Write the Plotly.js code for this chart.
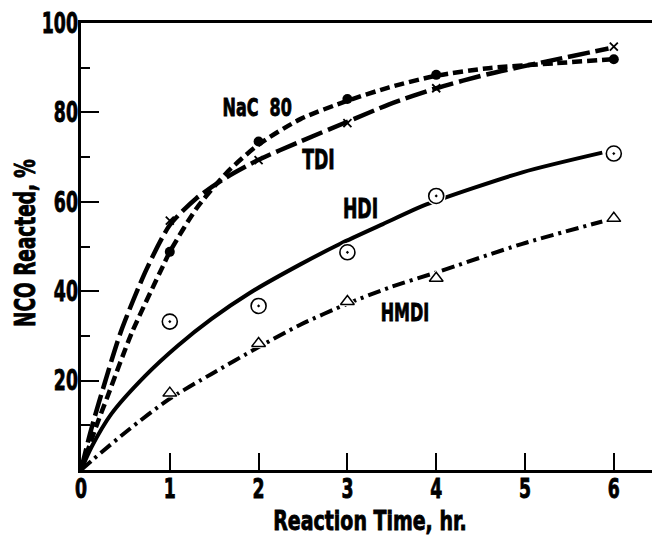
<!DOCTYPE html>
<html>
<head>
<meta charset="utf-8">
<script src="https://cdn.plot.ly/plotly-3.0.1.min.js"></script>
<style>
html,body{margin:0;padding:0;background:#fff;}
#chart{width:652px;height:537px;}
#chart text{stroke:#000;stroke-width:0.9px;}
</style>
</head>
<body>
<div id="chart"></div>
<script>
// Measured points (reaction time, hr  ->  NCO reacted, %)
const pointTimes = [1, 2, 3, 4, 6];
const nacPoints  = [48.8, 73.5, 83.0, 88.4, 91.9];
const tdiPoints  = [55.8, 69.3, 77.6, 85.4, 94.7];
const hdiPoints  = [33.2, 36.7, 48.7, 61.3, 70.8];
const hmdiPoints = [17.2, 28.3, 37.7, 42.9, 56.3];

// Drawn curves
const nacCurveX  = [0, 0.17, 0.30, 0.57, 0.92, 1.0, 1.3, 1.64, 2.0, 2.47, 3.0, 3.47, 4.0, 4.59, 5.34, 6.0];
const nacCurveY  = [0, 9.7, 16.5, 30.6, 45.5, 48.8, 58.5, 66.5, 72.8, 78.5, 82.6, 85.6, 88.2, 89.9, 91.0, 91.9];
const tdiCurveX  = [0, 0.10, 0.20, 0.45, 0.74, 1.0, 1.3, 1.64, 2.0, 2.47, 3.0, 3.47, 4.0, 4.59, 5.34, 5.94];
const tdiCurveY  = [0, 8.0, 15.0, 31.0, 45.0, 54.8, 60.8, 65.5, 69.4, 73.5, 77.9, 81.8, 85.4, 88.6, 91.8, 94.3];
const hdiCurveX  = [0, 0.12, 0.34, 0.72, 1.09, 1.47, 1.90, 2.47, 2.92, 3.40, 3.89, 4.97, 5.87];
const hdiCurveY  = [0, 5.2, 12.5, 21.0, 27.8, 33.8, 39.6, 46.0, 50.6, 55.0, 59.4, 66.6, 71.0];
const hmdiCurveX = [0, 0.15, 0.53, 0.98, 1.47, 2.0, 2.47, 3.0, 3.47, 4.0, 4.97, 5.87];
const hmdiCurveY = [0, 2.6, 8.9, 15.7, 21.5, 27.5, 32.5, 37.2, 40.8, 44.2, 50.6, 55.6];

const xTickVals = [0, 1, 2, 3, 4, 5, 6];
const yTickVals = [20, 40, 60, 80, 100];
const yMinorVals = [10, 30, 50, 70, 90];

const seriesLabels = ['NaC  80', 'TDI', 'HDI', 'HMDI'];
const labelX = [1.98, 2.68, 3.15, 3.65];
const labelY = [81.2, 69.4, 58.4, 35.3];
const labelSizes = [25, 27, 27, 25];

const FONT = 'DejaVu Sans, sans-serif';

function curve(x, y, dash, w) {
  return {x: x, y: y, mode: 'lines', type: 'scatter', showlegend: false, hoverinfo: 'skip',
          line: {color: '#000', width: w, dash: dash, shape: 'spline', smoothing: 0.7}};
}
function pts(y, symbol, size, lw, color, lcolor) {
  return {x: pointTimes, y: y, mode: 'markers', type: 'scatter', showlegend: false, cliponaxis: false,
          marker: {symbol: symbol, size: size, color: color || '#000', line: {color: lcolor || '#000', width: lw}}};
}

const traces = [
  curve(nacCurveX, nacCurveY, '10px,5px', 4.5),
  curve(tdiCurveX, tdiCurveY, '22px,6px', 4.5),
  curve(hdiCurveX, hdiCurveY, 'solid', 4),
  curve(hmdiCurveX, hmdiCurveY, '13px,5px,3px,5px', 4),
  // white halos so the lines break around the open symbols
  pts(hdiPoints, 'circle', 17, 2, '#fff', '#fff'),
  pts(hmdiPoints, 'triangle-up', 14, 2, '#fff', '#fff'),
  pts(nacPoints, 'circle', 10, 0),
  pts(tdiPoints, 'x-thin', 8, 1.8),
  pts(hdiPoints, 'circle-open-dot', 15, 1.6),
  pts(hmdiPoints, 'triangle-up-open', 12, 1.5)
];

const annotations = seriesLabels.map((t, i) => ({
  x: labelX[i], y: labelY[i], xref: 'x', yref: 'y', text: t, showarrow: false,
  font: {family: FONT, size: labelSizes[i], color: '#000', weight: 'bold'}
}));

const layout = {
  width: 652, height: 537,
  margin: {l: 81, r: 0, t: 23, b: 67, pad: 0},
  paper_bgcolor: '#fff', plot_bgcolor: '#fff',
  showlegend: false,
  font: {family: FONT, color: '#000'},
  xaxis: {
    range: [0, 6.43], showgrid: false, zeroline: false,
    showline: true, linecolor: '#000', linewidth: 3, mirror: true,
    ticks: 'inside', ticklen: 17, tickwidth: 2, tickcolor: '#000',
    tickvals: xTickVals, ticktext: xTickVals.map(String),
    tickfont: {family: FONT, size: 27, color: '#000', weight: 'bold'},
    title: {text: 'Reaction Time, hr.', font: {family: FONT, size: 26, color: '#000', weight: 'bold'}, standoff: 8}
  },
  yaxis: {
    range: [0, 100], showgrid: false, zeroline: false,
    showline: true, linecolor: '#000', linewidth: 3,
    ticks: 'inside', ticklen: 18, tickwidth: 2, tickcolor: '#000',
    tickvals: yTickVals, ticktext: yTickVals.map(String),
    tickfont: {family: FONT, size: 28, color: '#000', weight: 'bold'},
    minor: {tickvals: yMinorVals, ticks: 'inside', ticklen: 9, tickwidth: 2, tickcolor: '#000', showgrid: false},
    title: {text: 'NCO Reacted, %', font: {family: FONT, size: 28, color: '#000', weight: 'bold'}, standoff: 8}
  },
  annotations: annotations
};

// Condense text horizontally (the original uses a condensed bold typeface)
function condense(el, s) {
  const x = parseFloat(el.getAttribute('x')) || 0;
  const y = parseFloat(el.getAttribute('y')) || 0;
  const tr = el.getAttribute('transform') || '';
  el.setAttribute('transform', tr + ' translate(' + x + ',' + y + ') scale(' + s + ',1) translate(' + (-x) + ',' + (-y) + ')');
}
function shift(el, dx, dy) {
  el.setAttribute('transform', 'translate(' + dx + ',' + dy + ') ' + (el.getAttribute('transform') || ''));
}
function box(el, host) {
  const r = el.getBoundingClientRect();
  return {l: r.left - host.left, r: r.right - host.left, t: r.top - host.top, b: r.bottom - host.top,
          cx: r.left - host.left + r.width / 2, cy: r.top - host.top + r.height / 2};
}

Plotly.newPlot('chart', traces, layout, {staticPlot: true, displayModeBar: false}).then(gd => {
  const host = gd.getBoundingClientRect();
  gd.querySelectorAll('.xtick text').forEach(t => condense(t, 0.64));
  gd.querySelectorAll('.ytick text').forEach(t => condense(t, 0.62));
  gd.querySelectorAll('.annotation-text').forEach(t => condense(t, 0.64));
  const xt = gd.querySelector('.xtitle');
  const yt = gd.querySelector('.ytitle');
  if (xt) { condense(xt, 0.73); const b = box(xt, host); shift(xt, 370 - b.cx, 536 - b.b); }
  if (yt) { condense(yt, 0.66); const b = box(yt, host); shift(yt, 26 - b.cx, 243 - b.cy); }
  gd.querySelectorAll('.xtick text').forEach(t => { const b = box(t, host); shift(t, 0, 488 - b.cy); });
  gd.querySelectorAll('.ytick text').forEach(t => { const b = box(t, host); shift(t, 78 - b.r, 0); });
});
</script>
</body>
</html>
